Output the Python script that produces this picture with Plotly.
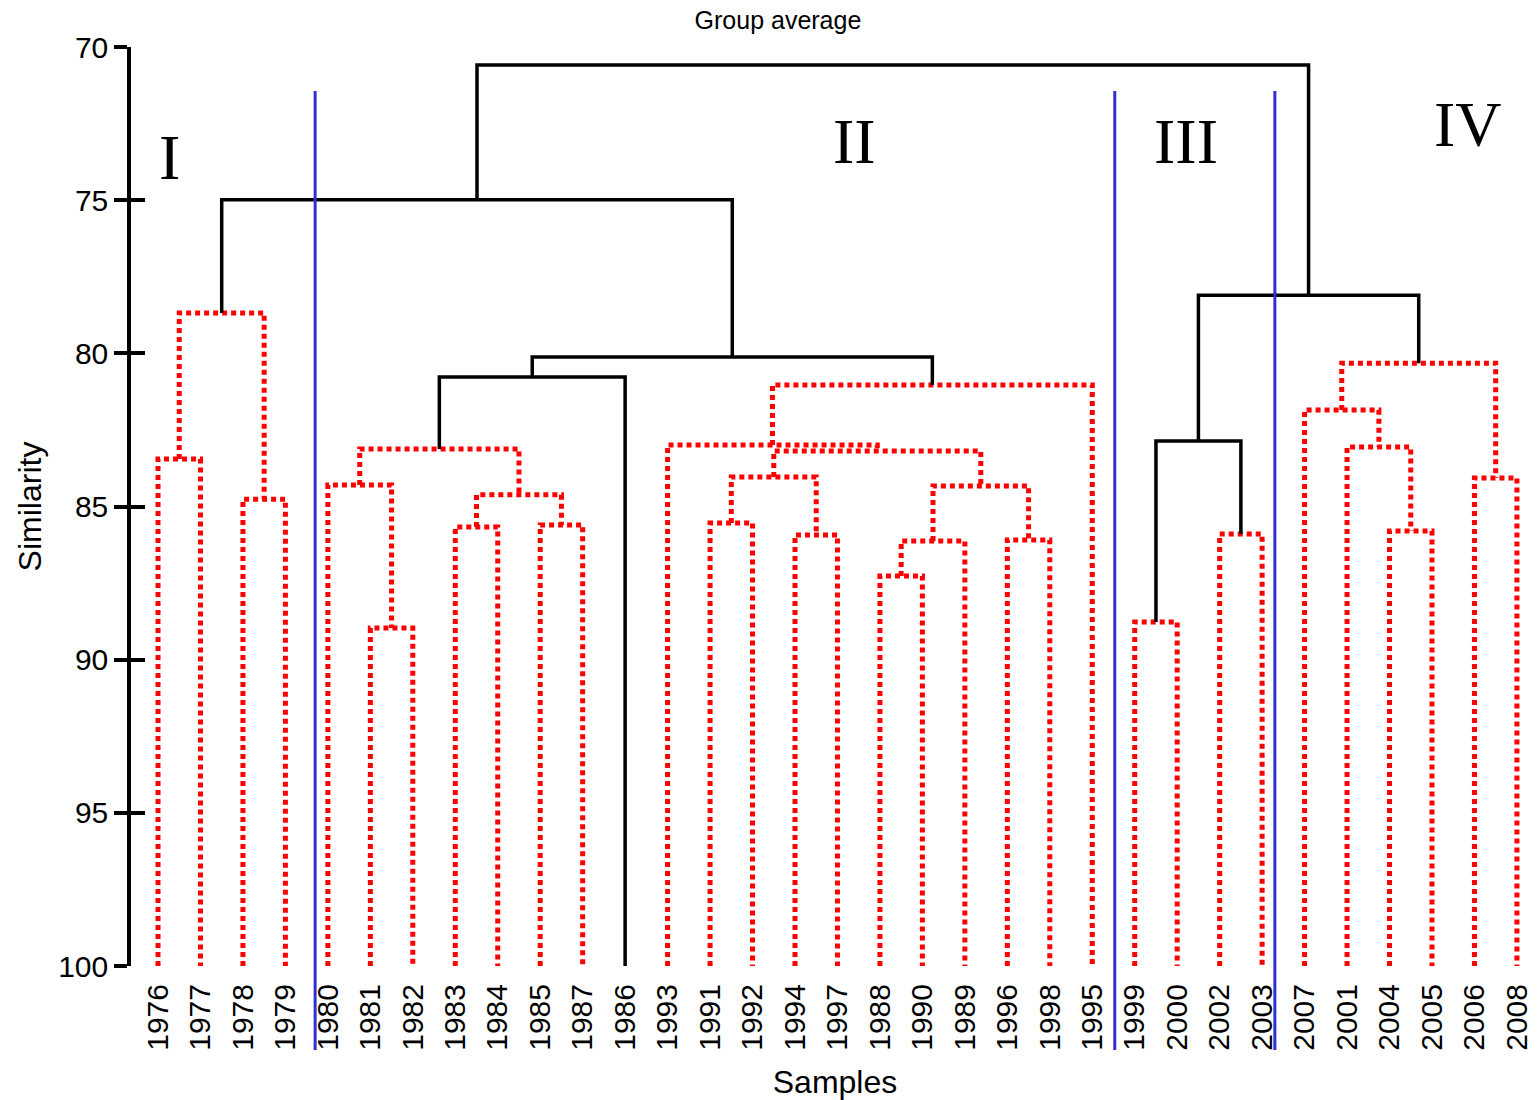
import plotly.graph_objects as go

# ---------------- data ----------------
leaves = ["1976", "1977", "1978", "1979", "1980", "1981", "1982", "1983", "1984",
          "1985", "1987", "1986", "1993", "1991", "1992", "1994", "1997", "1988",
          "1990", "1989", "1996", "1998", "1995", "1999", "2000", "2002", "2003",
          "2007", "2001", "2004", "2005", "2006", "2008"]

# merges n1..n32 (children: leaf label or node id), similarity level, solid (significant) link
merge_left = ["1976", "1978", "n1", "1981", "1980", "1983", "1985", "n6", "n5", "n9",
              "1991", "1994", "n11", "1988", "n14", "1996", "n15", "n13", "1993", "n19",
              "n10", "n3", "1999", "2002", "n23", "2004", "2001", "2007", "2006", "n28",
              "n25", "n22"]
merge_right = ["1977", "1979", "n2", "1982", "n4", "1984", "1987", "n7", "n8", "1986",
               "1992", "1997", "n12", "1990", "1989", "1998", "n16", "n17", "n18", "1995",
               "n20", "n21", "2000", "2003", "n24", "2005", "n26", "n27", "2008", "n29",
               "n30", "n31"]
merge_level = [83.45, 84.76, 78.68, 88.97, 84.30, 85.67, 85.60, 84.62, 83.12, 80.77,
               85.54, 85.93, 84.04, 87.27, 86.13, 86.09, 84.33, 83.19, 82.99, 81.03,
               80.12, 74.99, 88.77, 85.90, 82.86, 85.80, 83.06, 81.85, 84.07, 80.32,
               78.10, 70.59]
merge_solid = [False, False, False, False, False, False, False, False, False, True,
               False, False, False, False, False, False, False, False, False, False,
               True, True, False, False, True, False, False, False, False, False,
               True, True]

# group separators (in leaf-position units) and group labels
group_bounds = [3.70, 22.53, 26.30]
group_names = ["I", "II", "III", "IV"]
group_label_x = [0.28, 16.41, 24.2, 30.85]
group_label_y = [73.6, 73.07, 73.07, 72.52]

y_ticks = [70, 75, 80, 85, 90, 95, 100]
leaf_level = 100

# ---------------- build dendrogram paths ----------------
pos = {lab: (i, leaf_level) for i, lab in enumerate(leaves)}
red_x, red_y, blk_x, blk_y = [], [], [], []
for k in range(len(merge_level)):
    xa, ya = pos[merge_left[k]]
    xb, yb = pos[merge_right[k]]
    h = merge_level[k]
    px = [xa, xa, xb, xb, None]
    py = [ya, h, h, yb, None]
    if merge_solid[k]:
        blk_x += px
        blk_y += py
    else:
        red_x += px
        red_y += py
    pos["n%d" % (k + 1)] = ((xa + xb) / 2.0, h)

FONT = "Liberation Sans, Arial, sans-serif"

fig = go.Figure()
fig.add_trace(go.Scatter(x=red_x, y=red_y, mode="lines",
                         line=dict(color="#FF0000", width=5, dash="5px,4px"),
                         hoverinfo="skip", showlegend=False))
fig.add_trace(go.Scatter(x=blk_x, y=blk_y, mode="lines",
                         line=dict(color="black", width=3.5),
                         hoverinfo="skip", showlegend=False))
# helper so the inner tick axis renders
fig.add_trace(go.Scatter(x=[None], y=[None], yaxis="y2", showlegend=False, hoverinfo="skip"))

shapes = []
for b in group_bounds:
    shapes.append(dict(type="line", xref="x", yref="paper", x0=b, x1=b,
                       y0=-0.0914, y1=0.952, layer="above",
                       line=dict(color="#3030CC", width=3)))

annotations = []
for name, gx, gy in zip(group_names, group_label_x, group_label_y):
    annotations.append(dict(text=name, x=gx, y=gy, xref="x", yref="y",
                            showarrow=False, xanchor="center", yanchor="middle",
                            font=dict(family="Liberation Serif, Times New Roman, serif",
                                      size=64, color="black")))

fig.update_layout(
    width=1539, height=1100,
    margin=dict(l=131, r=0, t=47, b=134),
    paper_bgcolor="white", plot_bgcolor="white",
    showlegend=False,
    title=dict(text="Group average", xref="container", yref="container",
               x=0.5055, y=0.982, xanchor="center", yanchor="middle",
               font=dict(family=FONT, size=25, color="black")),
    xaxis=dict(range=[-0.636, 32.52], tickmode="array",
               tickvals=list(range(len(leaves))), ticktext=leaves,
               tickangle=-90, ticks="", showline=False, showgrid=False,
               zeroline=False, ticklabelstandoff=11,
               tickfont=dict(family=FONT, size=30, color="black"),
               title=dict(text="Samples", standoff=20,
                          font=dict(family=FONT, size=32, color="black"))),
    yaxis=dict(range=[100, 70], tickmode="array", tickvals=y_ticks,
               ticks="outside", ticklen=13, tickwidth=3.5, tickcolor="black",
               showline=True, linewidth=3.5, linecolor="black",
               showgrid=False, zeroline=False,
               tickfont=dict(family=FONT, size=30, color="black"),
               title=dict(text="Similarity", standoff=8,
                          font=dict(family=FONT, size=32, color="black"))),
    yaxis2=dict(range=[100, 70], overlaying="y", anchor="x", side="left",
                tickmode="array", tickvals=y_ticks, ticks="inside", ticklen=14,
                tickwidth=3.5, tickcolor="black", showticklabels=False,
                showline=False, showgrid=False, zeroline=False),
    shapes=shapes,
    annotations=annotations,
)

fig.write_html("out.html")
